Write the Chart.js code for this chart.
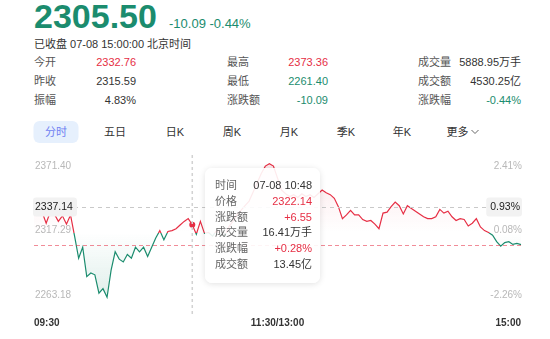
<!DOCTYPE html>
<html>
<head>
<meta charset="utf-8">
<script src="https://cdn.jsdelivr.net/npm/chart.js"></script>
<style>
  body { margin: 0; width: 550px; height: 339px; background: #fff; position: relative; overflow: hidden;
         font-family: "Liberation Sans", Arial, "Noto Sans CJK SC", sans-serif; color: #333; }
  .abs { position: absolute; white-space: nowrap; }
  .big { left: 34px; top: -3px; font-size: 34px; font-weight: bold; color: #1b8c6e; }
  .chg { left: 169px; top: 16px; font-size: 13px; color: #1b8c6e; }
  .sub { left: 34px; top: 35px; font-size: 11px; color: #333; }
  .lbl { font-size: 11px; color: #555; line-height: 19px; }
  .val { font-size: 11px; color: #333; line-height: 19px; text-align: right; }
  .red { color: #e62e44; }
  .green { color: #1b8c6e; }
  .tab { top: 121px; font-size: 11px; color: #333; line-height: 22px; transform: translateX(-50%); }
  .tab.on { background: #e6f0fd; color: #6f7ff2; border-radius: 6px; width: 45px; text-align: center; }
  #wrap { position: absolute; left: 0; top: 148px; width: 550px; height: 182px; }
  #tip { position: absolute; left: 205px; top: 168px; width: 115px; height: 115px; box-sizing: border-box;
         background: rgba(255,255,255,0.9); border-radius: 7px; box-shadow: 0 1px 6px rgba(0,0,0,0.12);
         padding: 10px 8px 0 10px; font-size: 11px; }
  #tip .row { display: flex; justify-content: space-between; height: 15.8px; line-height: 15.8px; }
  #tip .k { color: #666; }
  #tip .v { color: #333; }
  #tip .v.red { color: #e62e44; }
</style>
</head>
<body>
<div class="abs big">2305.50</div>
<div class="abs chg">-10.09 -0.44%</div>
<div class="abs sub">已收盘 07-08 15:00:00 北京时间</div>
<div id="stats"></div>
<div id="tabs"></div>
<div id="wrap"><canvas id="chart"></canvas></div>
<div id="tip"></div>
<script>
// minute-line values, one every 2 minutes from 09:30 to 15:00
const priceData = [
  2332.76, 2331.19, 2332.73, 2323.46, 2332.73, 2331.19, 2325.00, 2329.64, 2322.69, 2330.41,
  2312.64, 2294.09, 2303.37, 2278.64, 2281.73, 2280.18, 2264.73, 2268.59, 2261.40, 2284.05,
  2299.50, 2293.32, 2291.00, 2297.18, 2294.09, 2303.37, 2299.50, 2303.37, 2295.64, 2303.37,
  2311.09, 2317.28, 2309.55, 2316.50, 2317.28, 2318.82, 2321.91, 2325.00, 2327.32, 2322.14,
  2314.18, 2325.00, 2314.96, 2315.73, 2312.64, 2317.28, 2314.18, 2312.64, 2320.37, 2325.00,
  2330.41, 2334.28, 2338.14, 2342.01, 2349.73, 2357.46, 2365.19, 2371.37, 2373.36, 2371.37,
  2361.33, 2351.28, 2348.19, 2345.87, 2347.42, 2345.10, 2348.19, 2345.87, 2347.42, 2345.10,
  2348.19, 2351.28, 2348.96, 2347.42, 2344.32, 2337.37, 2327.32, 2330.41, 2334.28, 2330.41,
  2330.41, 2326.55, 2325.00, 2325.78, 2322.69, 2318.82, 2331.96, 2332.73, 2337.37, 2341.23,
  2338.14, 2331.19, 2338.14, 2335.82, 2333.50, 2331.19, 2328.87, 2327.32, 2327.32, 2328.87,
  2335.05, 2331.96, 2333.50, 2328.87, 2325.78, 2327.32, 2326.55, 2321.14, 2323.46, 2327.32,
  2320.37, 2317.28, 2315.73, 2313.41, 2308.00, 2304.14, 2307.23, 2308.00, 2305.68, 2306.46,
  2305.50
];
const prevClose = 2315.59;
const closePrice = 2305.50;
const priceTicks = [2263.18, 2317.29, 2371.40];
const pctTicks = ["-2.26%", "0.08%", "2.41%"];
const xTickIndex = [0, 60, 120];
const xTickText = ["09:30", "11:30/13:00", "15:00"];

const hoverIndex = 39;
const cursorPrice = 2337.14;
const cursorPct = "0.93%";

const tipLabels = ["时间", "价格", "涨跌额", "成交量", "涨跌幅", "成交额"];
const tipValues = ["07-08 10:48", "2322.14", "+6.55", "16.41万手", "+0.28%", "13.45亿"];
const tipRed = [false, true, true, false, true, false];

const statLabels = [["今开", "昨收", "振幅"], ["最高", "最低", "涨跌额"], ["成交量", "成交额", "涨跌幅"]];
const statValues = [["2332.76", "2315.59", "4.83%"], ["2373.36", "2261.40", "-10.09"], ["5888.95万手", "4530.25亿", "-0.44%"]];
const statColors = [["red", "", ""], ["red", "green", "green"], ["", "", "green"]];

const tabNames = ["分时", "五日", "日K", "周K", "月K", "季K", "年K", "更多"];

const RED = "#e62e44";
const GREEN = "#1b8c6e";

// header stats
const stats = document.getElementById("stats");
const colLeft = [34, 227, 418];
const colRight = [136, 328, 521];
const rowTop = [53, 72, 91];
for (let c = 0; c < 3; c++) {
  for (let r = 0; r < 3; r++) {
    const l = document.createElement("div");
    l.className = "abs lbl";
    l.style.left = colLeft[c] + "px";
    l.style.top = rowTop[r] + "px";
    l.textContent = statLabels[c][r];
    stats.appendChild(l);
    const v = document.createElement("div");
    v.className = "abs val " + statColors[c][r];
    v.style.right = (550 - colRight[c]) + "px";
    v.style.top = rowTop[r] + "px";
    v.textContent = statValues[c][r];
    stats.appendChild(v);
  }
}

// tabs
const tabs = document.getElementById("tabs");
const tabX = [56, 115, 175, 232, 289, 346, 402, 463];
tabNames.forEach((name, i) => {
  const t = document.createElement("div");
  t.className = "abs tab" + (i === 0 ? " on" : "");
  t.style.left = tabX[i] + "px";
  t.innerHTML = i === tabNames.length - 1
    ? name + '<svg width="9" height="6" style="margin-left:2px;vertical-align:1px"><path d="M1 1 L4.5 4.5 L8 1" fill="none" stroke="#666" stroke-width="1"/></svg>'
    : name;
  tabs.appendChild(t);
});

// tooltip box
const tip = document.getElementById("tip");
tipLabels.forEach((k, i) => {
  const row = document.createElement("div");
  row.className = "row";
  row.innerHTML = '<span class="k">' + k + '</span><span class="v' + (tipRed[i] ? ' red' : '') + '">' + tipValues[i] + '</span>';
  tip.appendChild(row);
});

// time labels
const times = [];
for (let k = 0; k < priceData.length; k++) {
  let m = k * 2;
  let h, mm;
  if (m <= 120) { h = 9; mm = 30 + m; } else { h = 13; mm = m - 120; }
  h += Math.floor(mm / 60); mm = mm % 60;
  times.push(String(h).padStart(2, "0") + ":" + String(mm).padStart(2, "0"));
}

const yMin = 2252.36, yMax = 2380.67;

function splitGradient(chart, top, bottom) {
  const { ctx, chartArea, scales } = chart;
  const yb = scales.y.getPixelForValue(prevClose);
  const f = Math.min(1, Math.max(0, (yb - chartArea.top) / (chartArea.bottom - chartArea.top)));
  const g = ctx.createLinearGradient(0, chartArea.top, 0, chartArea.bottom);
  g.addColorStop(0, top[0]);
  g.addColorStop(f, top[1]);
  g.addColorStop(f, bottom[0]);
  g.addColorStop(1, bottom[1]);
  return g;
}

const overlay = {
  id: "overlay",
  afterDatasetsDraw(chart) {
    const { ctx, chartArea, scales } = chart;
    const x = scales.x.getPixelForValue(hoverIndex);
    const yc = scales.y.getPixelForValue(cursorPrice);
    const yClose = scales.y.getPixelForValue(closePrice);
    ctx.save();
    // close price line
    ctx.strokeStyle = "rgba(230,46,68,0.55)";
    ctx.lineWidth = 1;
    ctx.setLineDash([4, 3]);
    ctx.beginPath();
    ctx.moveTo(chartArea.left, Math.round(yClose) + 0.5);
    ctx.lineTo(chartArea.right, Math.round(yClose) + 0.5);
    ctx.stroke();
    // crosshair
    ctx.strokeStyle = "#c9c9c9";
    ctx.setLineDash([4, 4]);
    ctx.beginPath();
    ctx.moveTo(chartArea.left, Math.round(yc) + 0.5);
    ctx.lineTo(chartArea.right, Math.round(yc) + 0.5);
    ctx.stroke();
    ctx.lineWidth = 1.5;
    ctx.setLineDash([3, 3]);
    ctx.strokeStyle = "#d2d2d2";
    ctx.beginPath();
    ctx.moveTo(x, chartArea.top);
    ctx.lineTo(x, chartArea.bottom + 6);
    ctx.stroke();
    ctx.setLineDash([]);
    // crosshair labels
    ctx.font = "10.5px 'Liberation Sans', Arial, sans-serif";
    ctx.textBaseline = "middle";
    const lw = ctx.measureText(cursorPrice.toFixed(2)).width + 6;
    ctx.fillStyle = "#f2f2f2";
    ctx.beginPath();
    ctx.roundRect(chartArea.left - 1, yc - 9.5, lw, 19, 3);
    ctx.fill();
    const rw = ctx.measureText(cursorPct).width + 6;
    ctx.beginPath();
    ctx.roundRect(chartArea.right - rw + 1, yc - 9.5, rw, 19, 3);
    ctx.fill();
    ctx.fillStyle = "#222";
    ctx.textAlign = "left";
    ctx.fillText(cursorPrice.toFixed(2), chartArea.left + 1, yc + 0.5);
    ctx.textAlign = "right";
    ctx.fillText(cursorPct, chartArea.right - 1, yc + 0.5);
    ctx.restore();
  }
};

new Chart(document.getElementById("chart"), {
  type: "line",
  data: {
    labels: times,
    datasets: [{
      data: priceData,
      yAxisID: "y",
      borderWidth: 1.2,
      tension: 0,
      borderColor: (c) => c.chart.chartArea ? splitGradient(c.chart, [RED, RED], [GREEN, GREEN]) : RED,
      backgroundColor: (c) => c.chart.chartArea
        ? splitGradient(c.chart, ["rgba(230,46,68,0.13)", "rgba(230,46,68,0)"], ["rgba(27,140,110,0)", "rgba(27,140,110,0.16)"])
        : "transparent",
      fill: { value: prevClose },
      pointRadius: (c) => (c.dataIndex === hoverIndex ? 3 : 0),
      pointBackgroundColor: RED,
      pointBorderWidth: 0,
    }],
  },
  options: {
    responsive: true,
    maintainAspectRatio: false,
    animation: false,
    events: [],
    layout: { padding: { left: 34, right: 29, top: 2, bottom: 0 } },
    plugins: { legend: { display: false }, tooltip: { enabled: false } },
    scales: {
      x: {
        grid: { display: false },
        border: { display: false },
        afterBuildTicks: (s) => { s.ticks = xTickIndex.map((v) => ({ value: v })); },
        ticks: {
          autoSkip: false,
          maxRotation: 0,
          align: "inner",
          padding: 1,
          color: "#333",
          font: { size: 10, weight: "bold", family: "'Liberation Sans', Arial, sans-serif" },
          callback: (v, i) => xTickText[i],
        },
      },
      y: {
        position: "left",
        min: yMin,
        max: yMax,
        grid: { display: false },
        border: { display: false },
        afterFit: (s) => { s.width = 0; },
        afterBuildTicks: (s) => { s.ticks = priceTicks.map((v) => ({ value: v })); },
        ticks: {
          mirror: true,
          padding: 1,
          color: "#b8b8b8",
          font: { size: 10, family: "'Liberation Sans', Arial, sans-serif" },
          callback: (v, i) => priceTicks[i].toFixed(2),
        },
      },
      y2: {
        position: "right",
        min: yMin,
        max: yMax,
        grid: { display: false },
        border: { display: false },
        afterFit: (s) => { s.width = 0; },
        afterBuildTicks: (s) => { s.ticks = priceTicks.map((v) => ({ value: v })); },
        ticks: {
          mirror: true,
          padding: 1,
          color: "#b8b8b8",
          font: { size: 10, family: "'Liberation Sans', Arial, sans-serif" },
          callback: (v, i) => pctTicks[i],
        },
      },
    },
  },
  plugins: [overlay],
});
</script>
</body>
</html>
